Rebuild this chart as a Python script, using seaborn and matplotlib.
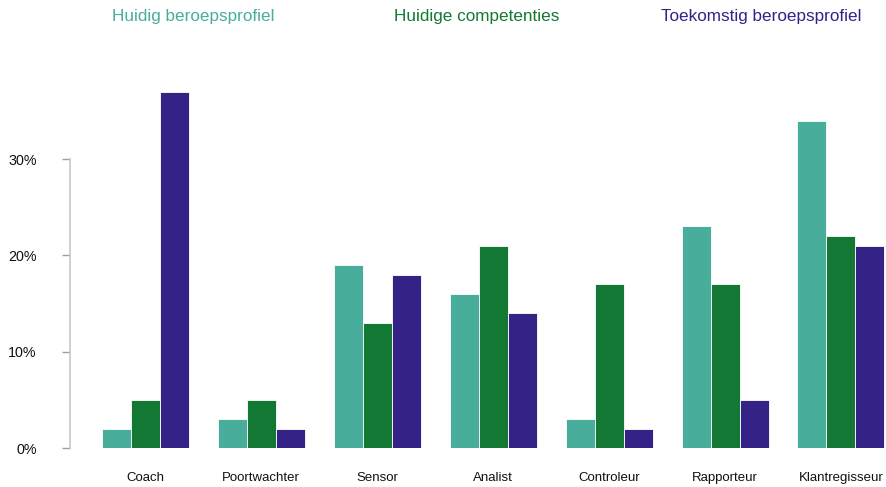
import pandas as pd
import seaborn as sns

import matplotlib
matplotlib.use('Agg')
import matplotlib.pyplot as plt
from matplotlib.ticker import PercentFormatter

# values (fractions)
categories = ["Coach", "Poortwachter", "Sensor", "Analist",
              "Controleur", "Rapporteur", "Klantregisseur"]
series = ["Huidig beroepsprofiel", "Huidige competenties", "Toekomstig beroepsprofiel"]
huidig_profiel = [0.02, 0.03, 0.19, 0.16, 0.03, 0.23, 0.34]
huidig_comp = [0.05, 0.05, 0.13, 0.21, 0.17, 0.17, 0.22]
toekomstig = [0.37, 0.02, 0.18, 0.14, 0.02, 0.05, 0.21]
colors = ["#48ad9b", "#137834", "#342287"]

rows = []
for name, vals in zip(series, [huidig_profiel, huidig_comp, toekomstig]):
    for cat, v in zip(categories, vals):
        rows.append({"rol": cat, "reeks": name, "waarde": v})
df = pd.DataFrame(rows)

sns.set_style("white")
plt.rcParams['font.family'] = ['Liberation Sans', 'DejaVu Sans']

fig = plt.figure(figsize=(8.86, 4.87), dpi=100)
ax = fig.add_axes([70 / 886, 39 / 487, 816 / 886, 366 / 487])

sns.barplot(data=df, x="rol", y="waarde", hue="reeks", hue_order=series,
            order=categories, palette=colors, saturation=1, width=0.75,
            edgecolor="white", linewidth=0.6, legend=False, ax=ax)

ax.set_xlim(-0.647, 6.388)
ax.set_ylim(0, 0.38)
ax.set_yticks([0, 0.1, 0.2, 0.3])
ax.yaxis.set_major_formatter(PercentFormatter(1.0, decimals=0))
ax.set_xlabel("")
ax.set_ylabel("")

for side in ["top", "right", "bottom"]:
    ax.spines[side].set_visible(False)
ax.spines["left"].set_bounds(0, 0.3)
ax.spines["left"].set_color("#c8c8c8")
ax.spines["left"].set_linewidth(1.2)

ax.tick_params(axis="y", direction="out", length=6, width=1, color="#9e9e9e",
               pad=18, labelsize=10.3, labelcolor="#111111", left=True)
ax.tick_params(axis="x", length=0, pad=17, labelsize=9.5, labelcolor="#111111")

# coloured series names along the top act as the legend
for name, col, xc in zip(series, colors, [193, 477, 761]):
    fig.text(xc / 886, 1 - 16 / 487, name, color=col, fontsize=12.3,
             ha="center", va="center")

plt.savefig("out.png", dpi=100)
plt.close()
